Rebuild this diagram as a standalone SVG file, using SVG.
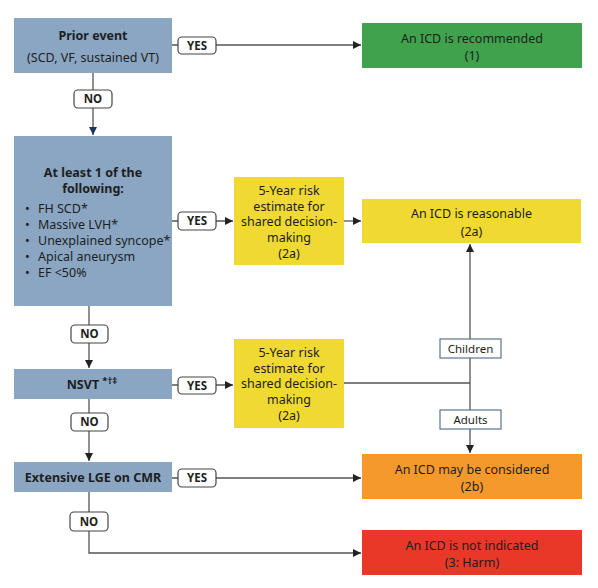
<svg xmlns="http://www.w3.org/2000/svg" width="598" height="588" viewBox="0 0 598 588">
<style>
text{font-family:"Noto Sans","Open Sans","Liberation Sans",sans-serif;fill:#1e1e1e;}
.q{fill:#8aa6c3;}
.t{font-size:12.5px;text-anchor:middle;}
.b{font-weight:bold;}
.lbl{fill:#fff;stroke:#444;stroke-width:1.2;}
.lt{font-size:11.5px;font-weight:bold;text-anchor:middle;}
.grp{fill:#fff;stroke:#5c7391;stroke-width:1.2;}
.gt{font-size:11.5px;text-anchor:middle;}
.ln{fill:none;stroke:#555;stroke-width:1.3;}
</style>
<defs>
<marker id="ah" viewBox="0 0 10 10" refX="10" refY="5" markerWidth="8" markerHeight="8" markerUnits="userSpaceOnUse" orient="auto"><path d="M0,0 L10,5 L0,10 z" fill="#222"/></marker>
<marker id="ahn" viewBox="0 0 10 10" refX="10" refY="5" markerWidth="8" markerHeight="8" markerUnits="userSpaceOnUse" orient="auto"><path d="M0,0 L10,5 L0,10 z" fill="#1d3557"/></marker>
</defs>
<rect width="598" height="588" fill="#fff"/>
<g id="connectors">
<path class="ln" d="M172,45 H361" marker-end="url(#ah)"/>
<path class="ln" d="M93,73 V135" stroke="#1d3557" marker-end="url(#ahn)"/>
<path class="ln" d="M172,221 H233" marker-end="url(#ah)"/>
<path class="ln" d="M344,221 H361" marker-end="url(#ah)"/>
<path class="ln" d="M89,306 V368" marker-end="url(#ah)"/>
<path class="ln" d="M172,385 H233" marker-end="url(#ah)"/>
<path class="ln" d="M344,383 H470"/>
<path class="ln" d="M470,383 V244" marker-end="url(#ah)"/>
<path class="ln" d="M470,383 V453" marker-end="url(#ah)"/>
<path class="ln" d="M89,399 V461" marker-end="url(#ah)"/>
<path class="ln" d="M172,478 H361" marker-end="url(#ah)"/>
<path class="ln" d="M89,492 V553 H361" marker-end="url(#ah)"/>
<g id="lbl-yes1"><rect class="lbl" x="178" y="37" width="38" height="17" rx="4"/><text class="lt" x="197" y="49.5">YES</text></g>
<g id="lbl-no1"><rect class="lbl" x="74" y="90" width="38" height="18" rx="4"/><text class="lt" x="93" y="103">NO</text></g>
<g id="lbl-yes2"><rect class="lbl" x="178" y="212" width="38" height="18" rx="4"/><text class="lt" x="197" y="225">YES</text></g>
<g id="lbl-no2"><rect class="lbl" x="71" y="325" width="37" height="18" rx="4"/><text class="lt" x="89.5" y="338">NO</text></g>
<g id="lbl-yes3"><rect class="lbl" x="178" y="377" width="38" height="17" rx="4"/><text class="lt" x="197" y="389.5">YES</text></g>
<g id="lbl-no3"><rect class="lbl" x="71" y="413" width="37" height="18" rx="4"/><text class="lt" x="89.5" y="426">NO</text></g>
<g id="lbl-yes4"><rect class="lbl" x="178" y="469" width="38" height="18" rx="4"/><text class="lt" x="197" y="482">YES</text></g>
<g id="lbl-no4"><rect class="lbl" x="70" y="512" width="38" height="19" rx="4"/><text class="lt" x="89" y="525.5">NO</text></g>
<g id="lbl-children"><rect class="grp" x="440" y="339" width="61" height="19"/><text class="gt" x="470.5" y="352.5">Children</text></g>
<g id="lbl-adults"><rect class="grp" x="440" y="410" width="61" height="19"/><text class="gt" x="470.5" y="423.5">Adults</text></g>
</g>
<g id="prior-event"><rect class="q" x="14" y="18" width="158" height="55"/>
<text class="t b" x="93" y="39.5">Prior event</text>
<text class="t" x="93" y="61.5">(SCD, VF, sustained VT)</text></g>
<g id="recommended"><rect x="362" y="23" width="220" height="45" fill="#40a24c"/>
<text class="t" x="472" y="42.5">An ICD is recommended</text>
<text class="t" x="472" y="59.5">(1)</text></g>
<g id="at-least-one"><rect class="q" x="14" y="136" width="158" height="170"/>
<text class="t b" x="93" y="176.5">At least 1 of the</text>
<text class="t b" x="93" y="192.5">following:</text>
<g font-size="12.5">
<text x="25" y="212.5">•</text><text x="38" y="212.5">FH SCD*</text>
<text x="25" y="228.5">•</text><text x="38" y="228.5">Massive LVH*</text>
<text x="25" y="244.5">•</text><text x="38" y="244.5">Unexplained syncope*</text>
<text x="25" y="260.5">•</text><text x="38" y="260.5">Apical aneurysm</text>
<text x="25" y="276.5">•</text><text x="38" y="276.5">EF &lt;50%</text>
</g></g>
<g id="risk1"><rect x="234" y="177" width="110" height="88" fill="#efd932"/>
<text class="t" x="289" y="194.5">5-Year risk</text>
<text class="t" x="289" y="210.5">estimate for</text>
<text class="t" x="289" y="226">shared decision-</text>
<text class="t" x="289" y="241.5">making</text>
<text class="t" x="289" y="257.5">(2a)</text></g>
<g id="reasonable"><rect x="362" y="199" width="219" height="44" fill="#efd932"/>
<text class="t" x="471.5" y="217.5">An ICD is reasonable</text>
<text class="t" x="471.5" y="235.5">(2a)</text></g>
<g id="nsvt"><rect class="q" x="14" y="369" width="158" height="30"/>
<text x="92" y="389" font-size="12.5" font-weight="bold" text-anchor="middle">NSVT <tspan font-size="9.5" dy="-5">*†‡</tspan></text></g>
<g id="risk2"><rect x="234" y="339" width="110" height="89" fill="#efd932"/>
<text class="t" x="289" y="356.5">5-Year risk</text>
<text class="t" x="289" y="372.5">estimate for</text>
<text class="t" x="289" y="388">shared decision-</text>
<text class="t" x="289" y="404">making</text>
<text class="t" x="289" y="420">(2a)</text></g>
<g id="lge"><rect class="q" x="14" y="462" width="158" height="30"/>
<text class="t b" x="93" y="481.5" font-size="12">Extensive LGE on CMR</text></g>
<g id="considered"><rect x="362" y="454" width="220" height="45" fill="#f5992c"/>
<text class="t" x="472" y="473.5">An ICD may be considered</text>
<text class="t" x="472" y="490.5">(2b)</text></g>
<g id="not-indicated"><rect x="362" y="530" width="220" height="45" fill="#e93828"/>
<text class="t" x="472" y="549.5">An ICD is not indicated</text>
<text class="t" x="472" y="566.5">(3: Harm)</text></g>
</svg>
